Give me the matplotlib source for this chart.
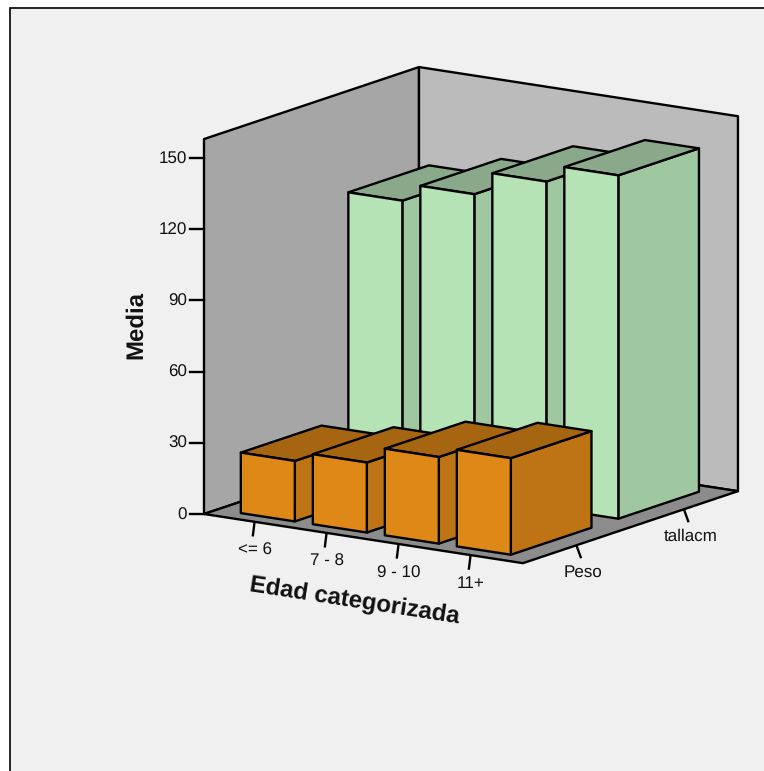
"""
Media de peso y talla por edad categorizada, barras 3D oblicuas
"""

import matplotlib

matplotlib.use("Agg")
import matplotlib.pyplot as plt
from matplotlib.patches import Polygon, Rectangle

plt.rcParams["font.family"] = ["Liberation Sans", "DejaVu Sans"]
plt.rcParams["text.hinting"] = "no_hinting"
plt.rcParams["text.hinting_factor"] = 1

categories = ["<= 6", "7 - 8", "9 - 10", "11+"]
series_names = ["Peso", "tallacm"]
peso = [25.5, 29.5, 36.5, 40.7]
talla = [120.0, 127.4, 137.4, 144.7]
y_ticks = [0, 30, 60, 90, 120, 150]

ORIGIN = (204.0, 514.0)
CAT_STEP = (72.0, 11.1)
DEPTH_STEP = (107.5, -36.0)
VALUE_STEP = 2.373
CAT_START = -0.70
CAT_END = 3.73
DEPTH_END = 2.0
VALUE_TOP = 158.0
BAR_HALF = 0.375

GREEN = ("#b5e3b5", "#9fc8a0", "#8aa98a")
ORANGE = ("#de8818", "#be7414", "#a66510")
EDGE = "black"
TEXT = "#111111"


def project(cat, depth, value):
    u = cat - CAT_START
    px = ORIGIN[0] + CAT_STEP[0] * u + DEPTH_STEP[0] * depth
    py = ORIGIN[1] + CAT_STEP[1] * u + DEPTH_STEP[1] * depth - VALUE_STEP * value
    return px, py


def face(ax, corners, color, zorder, lw=1.7):
    pts = [project(*c) for c in corners]
    ax.add_patch(Polygon(pts, closed=True, facecolor=color, edgecolor=EDGE, linewidth=lw, joinstyle="round", zorder=zorder))


def draw_bar(ax, cat, depth, value, colors, zorder):
    x0, x1 = cat - BAR_HALF, cat + BAR_HALF
    d0, d1 = depth - BAR_HALF, depth + BAR_HALF
    front, side, top = colors
    face(ax, [(x1, d0, 0), (x1, d1, 0), (x1, d1, value), (x1, d0, value)], side, zorder)
    face(ax, [(x0, d0, value), (x1, d0, value), (x1, d1, value), (x0, d1, value)], top, zorder)
    face(ax, [(x0, d0, 0), (x1, d0, 0), (x1, d0, value), (x0, d0, value)], front, zorder)


fig = plt.figure(figsize=(7.64, 7.71), dpi=100, facecolor="white")
ax = fig.add_axes([0, 0, 1, 1])
ax.set_xlim(0, 764)
ax.set_ylim(771, 0)
ax.axis("off")

# panel de fondo
ax.add_patch(Rectangle((10, 8), 770, 780, facecolor="#f0f0f0", edgecolor=EDGE, linewidth=1.2, zorder=0))

# paredes y suelo
face(ax, [(CAT_START, 0, 0), (CAT_START, DEPTH_END, 0), (CAT_START, DEPTH_END, VALUE_TOP), (CAT_START, 0, VALUE_TOP)], "#a6a6a6", 1)
face(ax, [(CAT_START, DEPTH_END, 0), (CAT_END, DEPTH_END, 0), (CAT_END, DEPTH_END, VALUE_TOP), (CAT_START, DEPTH_END, VALUE_TOP)], "#bbbbbb", 1)
face(ax, [(CAT_START, 0, 0), (CAT_END, 0, 0), (CAT_END, DEPTH_END, 0), (CAT_START, DEPTH_END, 0)], "#8c8c8c", 2)

# barras, de atras hacia delante
z = 3
for depth, values, colors in [(1.5, talla, GREEN), (0.5, peso, ORANGE)]:
    for i, v in enumerate(values):
        draw_bar(ax, i, depth, v, colors, z)
        z += 1

# eje de valores
for t in y_ticks:
    px, py = project(CAT_START, 0, t)
    ax.plot([px - 14, px], [py, py], color=EDGE, lw=1.7, zorder=2)
    ax.text(px - 17, py + 1, str(t), ha="right", va="center", fontsize=12.1, color=TEXT)

# eje de categorias
for i, name in enumerate(categories):
    px, py = project(i, 0, 0)
    ax.plot([px, px - 1.5], [py + 1.5, py + 13.5], color=EDGE, lw=1.7, zorder=2)
    ax.text(px + 0.5, py + 29, name, ha="center", va="center", fontsize=12.1, color=TEXT)

# eje de series
for j, name in enumerate(series_names):
    px, py = project(CAT_END, j + 0.5, 0)
    ax.plot([px, px + 4], [py + 1, py + 12], color=EDGE, lw=1.7, zorder=2)
    ax.text(px + 6, py + 27, name, ha="center", va="center", fontsize=12.1, color=TEXT)

ax.text(136, 325, "Media", rotation=90, ha="center", va="center", fontsize=17, fontweight="bold", color=TEXT)
ax.text(354, 601, "Edad categorizada", rotation=-8.75, rotation_mode="anchor", ha="center", va="center", fontsize=17, fontweight="bold", color=TEXT)

fig.savefig("out.png", dpi=100, facecolor="white")
plt.close(fig)
